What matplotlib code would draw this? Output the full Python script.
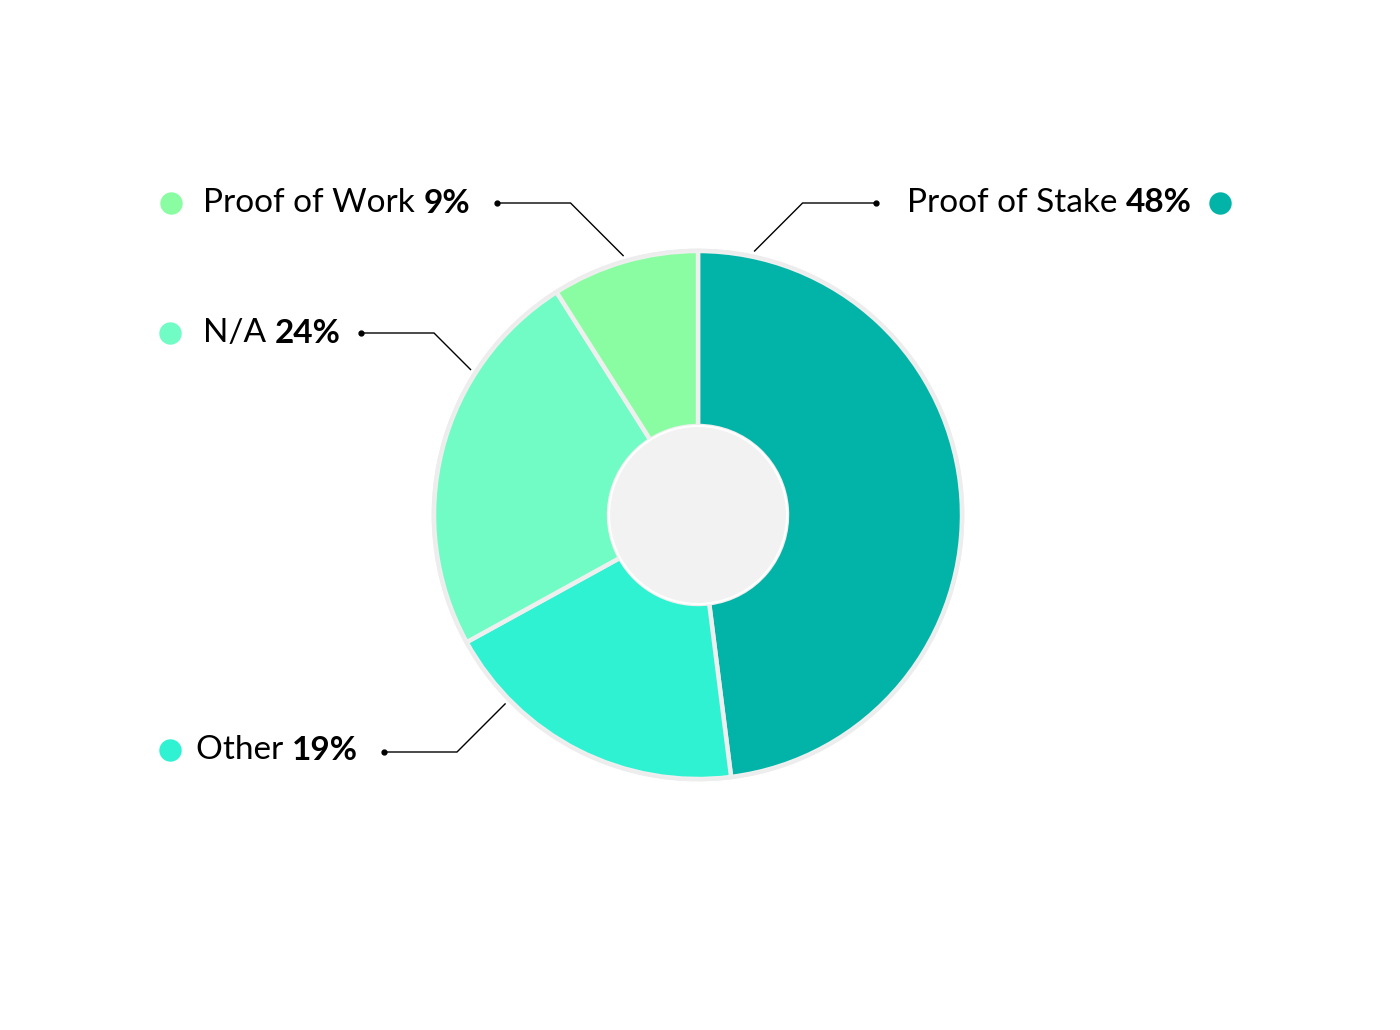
import numpy as np
import matplotlib.pyplot as plt
from matplotlib.patches import Circle

# data, in drawing order (clockwise from 12 o'clock)
labels = ['Proof of Stake', 'Other', 'N/A', 'Proof of Work']
values = [48, 19, 24, 9]
colors = ['#02b4a7', '#2ef2d2', '#71fcc6', '#8afda2']

W, H = 1400, 1030
cx, cy = 698, H - 515
r_out, r_in = 264, 89

fig = plt.figure(figsize=(14, 10.3), dpi=100)
ax = fig.add_axes([0, 0, 1, 1])

ax.pie(values, colors=colors, startangle=90, counterclock=False,
       radius=r_out, center=(cx, cy),
       wedgeprops=dict(width=r_out - r_in, edgecolor='#efefef', linewidth=3.2))
ax.add_patch(Circle((cx, cy), r_out + 1, fill=False, edgecolor='#ededed', lw=2))
ax.add_patch(Circle((cx, cy), r_in, facecolor='#f2f2f2', edgecolor='white', lw=1.5, zorder=5))

ax.set_xlim(0, W)
ax.set_ylim(0, H)
ax.set_aspect('equal')
ax.axis('off')

# callouts: anchor angle (deg clockwise from top), label row y, line end x
callouts = {
    'Proof of Stake': (12.1, 203, 876),
    'Proof of Work': (-16.1, 203, 497),
    'N/A': (-57.4, 333, 361),
    'Other': (225.6, 752, 384),
}
r_anchor = 270
for name, (ang, ly, ex) in callouts.items():
    a = np.radians(ang)
    ax_, ay_ = cx + r_anchor * np.sin(a), cy + r_anchor * np.cos(a)
    ly_d = H - ly
    dy = ly_d - ay_
    side = 1 if ex > ax_ else -1
    elbow_x = ax_ + side * abs(dy)
    ax.plot([ax_, elbow_x, ex], [ay_, ly_d, ly_d], color='black', lw=1.0,
            solid_joinstyle='miter')
    ax.plot([ex], [ly_d], 'o', color='black', ms=3.5)

pct = dict(zip(labels, values))
col = dict(zip(labels, colors))
fs = 24
font = 'Lato'

# left side labels: dot, name, bold percent
left = {'Proof of Work': (171, 203, 203), 'N/A': (170, 203, 333), 'Other': (170, 196, 750)}
for name, (dx, tx, y) in left.items():
    yd = H - y
    ax.scatter([dx], [yd], s=260, color=col[name], linewidths=0)
    t = ax.text(tx, yd, name + ' ', fontsize=fs, family=font,
                va='center', ha='left')
    ax.annotate(f'{pct[name]}%', xy=(1, 0), xycoords=t, fontsize=fs, family=font,
                fontweight='bold', va='bottom', ha='left')

# right side label
yd = H - 203
tb = ax.text(1192, yd, f"{pct['Proof of Stake']}%", fontsize=fs, family=font,
             fontweight='bold', va='center', ha='right')
ax.annotate('Proof of Stake ', xy=(0, 0), xycoords=tb, fontsize=fs, family=font,
            va='bottom', ha='right')
ax.scatter([1220], [yd], s=260, color=col['Proof of Stake'], linewidths=0)

fig.savefig('out.png', dpi=100, facecolor='white')
